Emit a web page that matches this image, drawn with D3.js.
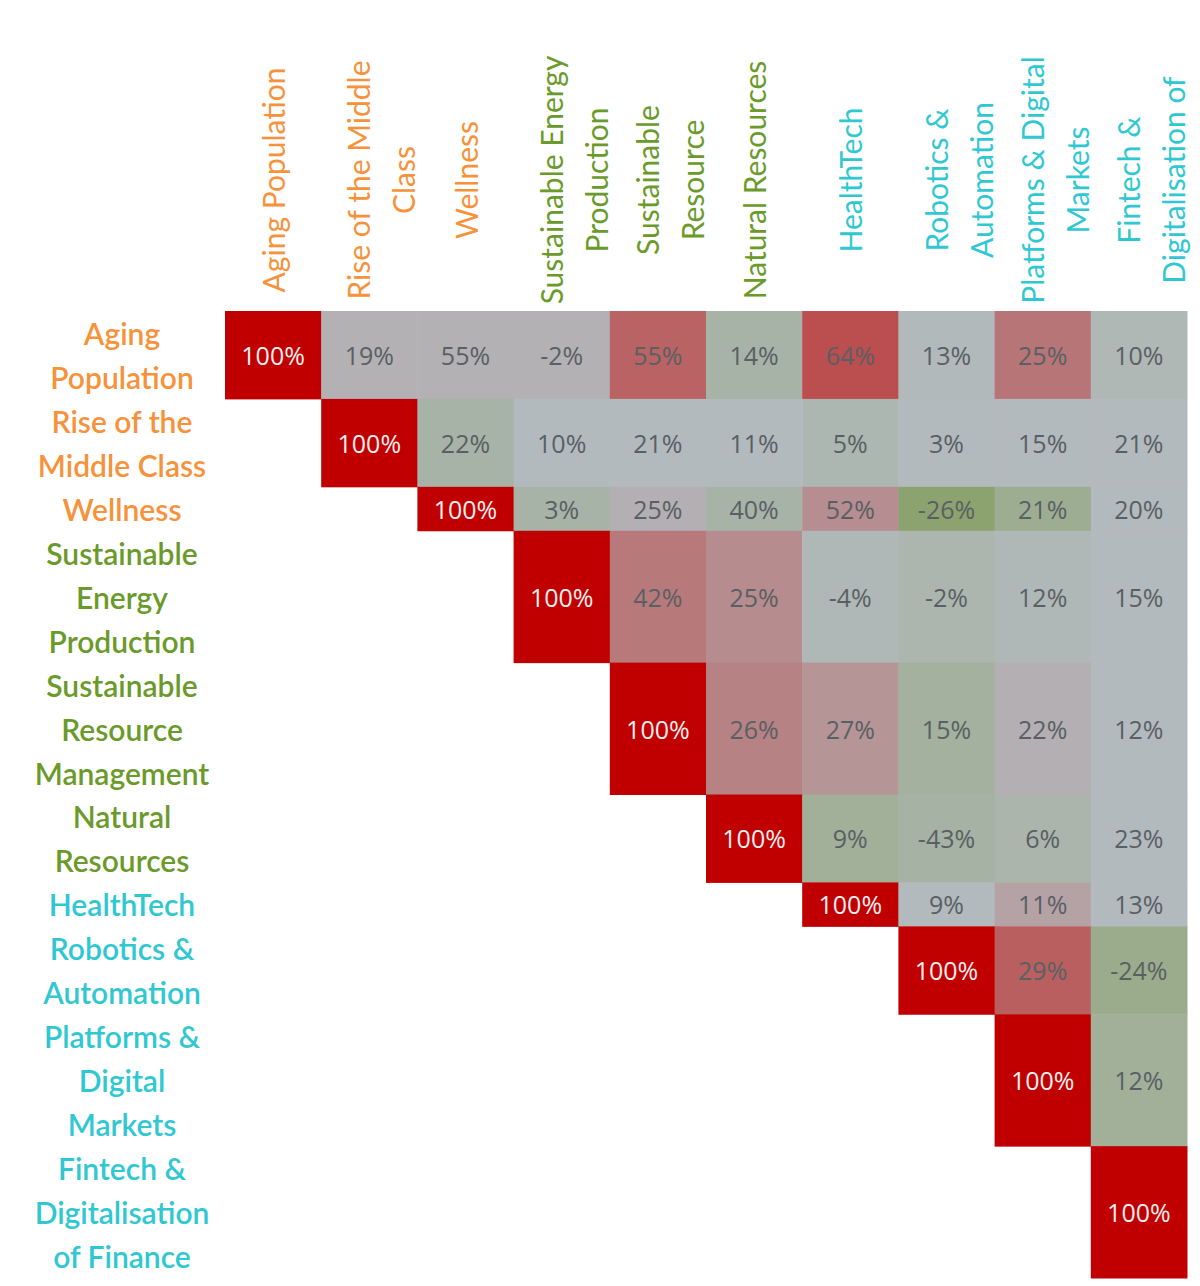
<!DOCTYPE html>
<html><head><meta charset="utf-8">
<script src="https://cdn.jsdelivr.net/npm/d3@7"></script>
<style>html,body{margin:0;padding:0;background:#fff;}</style>
</head><body>
<svg id="chart" width="1200" height="1286"></svg>
<script>
// ---- data ----
const categories = ["Aging Population","Rise of the Middle Class","Wellness","Sustainable Energy Production","Sustainable Resource Management","Natural Resources","HealthTech","Robotics & Automation","Platforms & Digital Markets","Fintech & Digitalisation of Finance"];
const themes = ["demo","demo","demo","env","env","env","tech","tech","tech","tech"];
const rowLabelLines = [["Aging","Population"],["Rise of the","Middle Class"],["Wellness"],["Sustainable","Energy","Production"],["Sustainable","Resource","Management"],["Natural","Resources"],["HealthTech"],["Robotics &","Automation"],["Platforms &","Digital","Markets"],["Fintech &","Digitalisation","of Finance"]];
const colLabelLines = [["Aging Population"],["Rise of the Middle","Class"],["Wellness"],["Sustainable Energy","Production"],["Sustainable","Resource"],["Natural Resources"],["HealthTech"],["Robotics &","Automation"],["Platforms & Digital","Markets"],["Fintech &","Digitalisation of"]];
// correlations (%), upper triangle, each row starts at the diagonal
const correlations = [
  [100,19,55,-2,55,14,64,13,25,10],
  [100,22,10,21,11,5,3,15,21],
  [100,3,25,40,52,-26,21,20],
  [100,42,25,-4,-2,12,15],
  [100,26,27,15,22,12],
  [100,9,-43,6,23],
  [100,9,11,13],
  [100,29,-24],
  [100,12],
  [100]
];
// cell shading signal (-1 green .. 0 neutral .. 1 red)
const shading = [
  [1,0.05,0.05,0.05,0.47,-0.16,0.58,-0.02,0.37,-0.06],
  [1,-0.16,0,0,0,-0.08,0,0,0],
  [1,-0.16,0.06,-0.16,0.24,-0.56,-0.32,0],
  [1,0.35,0.25,-0.04,-0.1,-0.04,0],
  [1,0.3,0.2,-0.22,0.06,0],
  [1,-0.25,-0.19,-0.12,0],
  [1,0,0.13,0],
  [1,0.49,-0.35],
  [1,-0.25],
  [1]
];

// ---- layout ----
const svg = d3.select("#chart");
const themeColor = d3.scaleOrdinal().domain(["demo","env","tech"]).range(["#f7923a","#6a9a2a","#2fc8d2"]);
const fill = d3.scaleLinear().domain([-1,0,1]).range(["#6e9132","#b3babd","#c00000"]).interpolate(d3.interpolateRgb);

const x = d3.scaleBand().domain(d3.range(categories.length)).range([225,1187]).padding(0);
const lineCounts = rowLabelLines.map(l => l.length);
const cum = [0]; lineCounts.forEach((c,i)=>cum.push(cum[i]+c));
const yLine = d3.scaleLinear().domain([0, cum[cum.length-1]]).range([311,1278]);
const rowTop = i => yLine(cum[i]);
const rowBottom = i => yLine(cum[i+1]);

const cells = [];
correlations.forEach((row,i)=>row.forEach((v,k)=>{
  const j = i + k;
  cells.push({i,j,v,s:shading[i][k]});
}));

const g = svg.append("g");
g.selectAll("rect.cell").data(cells).join("rect")
  .attr("class","cell")
  .attr("x", d=>x(d.j)).attr("y", d=>rowTop(d.i))
  .attr("width", x.bandwidth()+0.5).attr("height", d=>rowBottom(d.i)-rowTop(d.i)+0.5)
  .attr("fill", d=>fill(d.s));

g.selectAll("text.val").data(cells).join("text")
  .attr("class","val")
  .attr("x", d=>x(d.j)+x.bandwidth()/2)
  .attr("y", d=>(rowTop(d.i)+rowBottom(d.i))/2)
  .attr("text-anchor","middle").attr("dominant-baseline","central")
  .attr("font-family","'Open Sans', sans-serif").attr("font-size",25)
  .attr("fill", d=>d.v===100 ? "#fbeeee" : "#596064")
  .text(d=>String(d.v)+"%");

// row labels
const rowG = svg.append("g");
rowLabelLines.forEach((lines,i)=>{
  const cy = (rowTop(i)+rowBottom(i))/2;
  const lh = yLine(1)-yLine(0);
  const t = rowG.append("text")
    .attr("text-anchor","middle")
    .attr("font-family","Lato, sans-serif").attr("font-size",30).attr("font-weight",600)
    .attr("fill", themeColor(themes[i]));
  lines.forEach((ln,k)=>{
    t.append("tspan").attr("x",122)
      .attr("y", cy + (k-(lines.length-1)/2)*lh)
      .attr("dominant-baseline","central")
      .text(ln);
  });
});

// column labels (rotated)
const colG = svg.append("g");
colLabelLines.forEach((lines,j)=>{
  const cx = x(j)+x.bandwidth()/2;
  lines.forEach((ln,k)=>{
    const off = lines.length===1 ? 0 : -11 + 45*k;
    colG.append("text")
      .attr("transform",`translate(${cx+off},180) rotate(-90)`)
      .attr("text-anchor","middle").attr("dominant-baseline","central")
      .attr("font-family","Lato, sans-serif").attr("font-size",30)
      .attr("fill", themeColor(themes[j]))
      .text(ln);
  });
});
</script>
</body></html>
